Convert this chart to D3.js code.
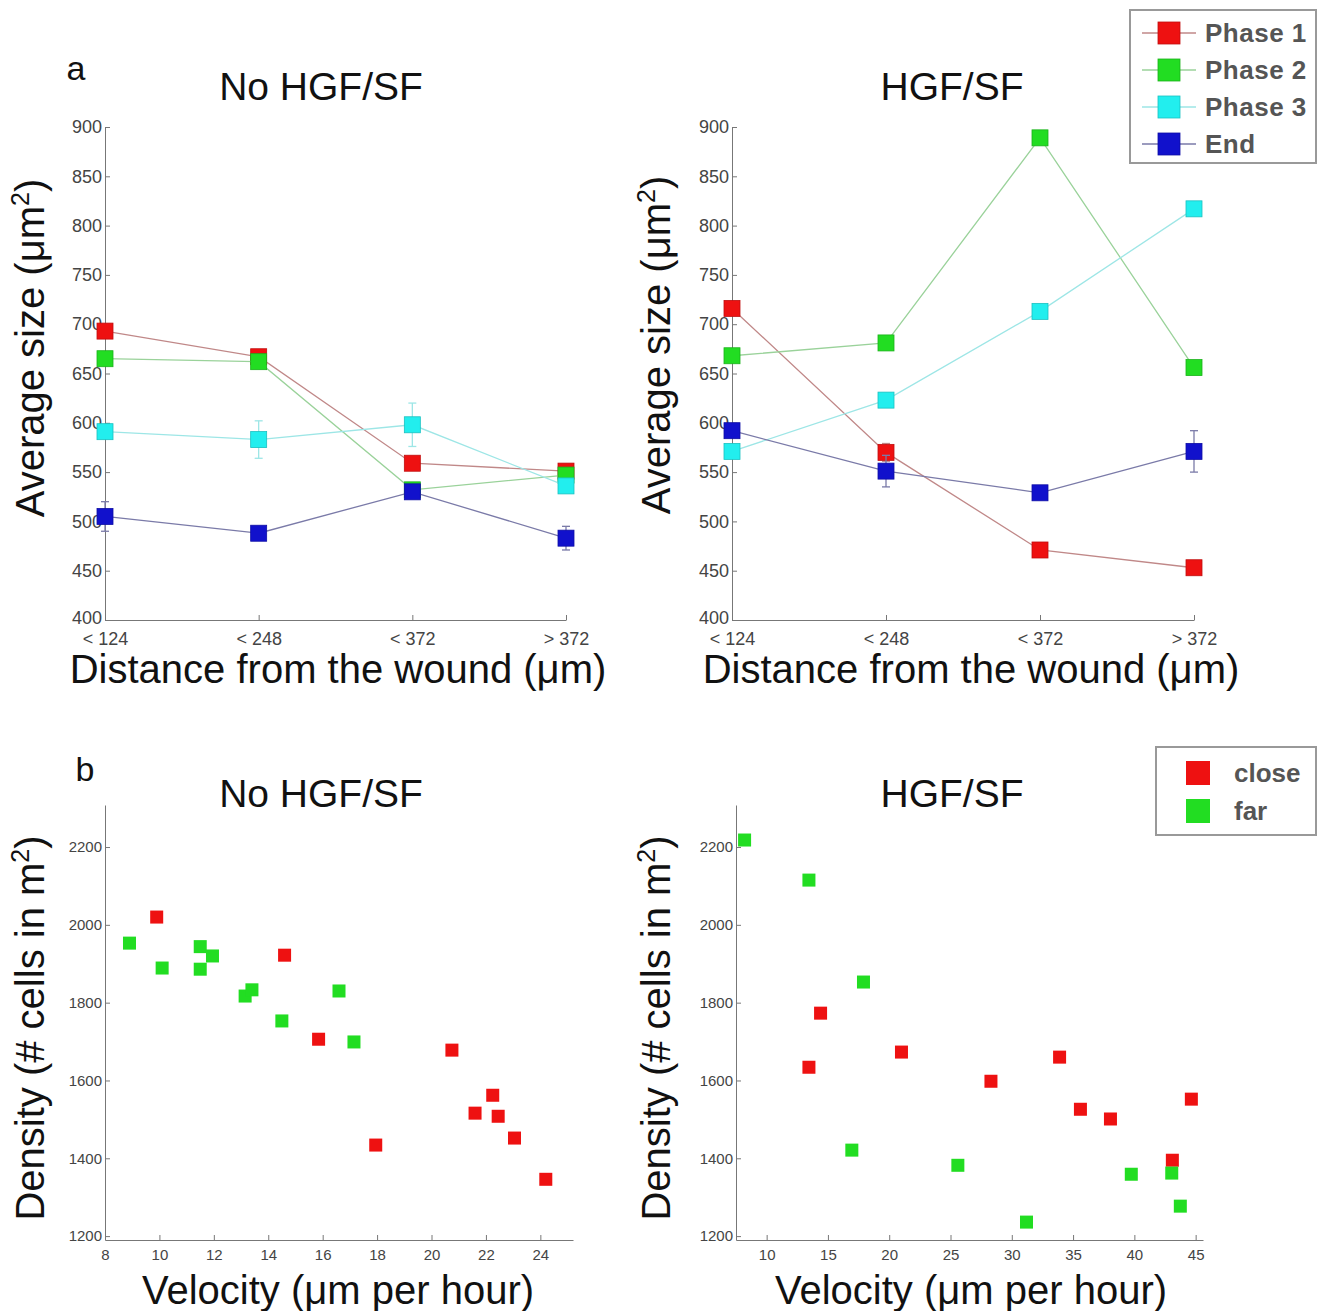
<!DOCTYPE html>
<html>
<head>
<meta charset="utf-8">
<script src="https://cdn.jsdelivr.net/npm/d3@7"></script>
<style>
  body { margin: 0; background: #fff; }
  svg { font-family: "Liberation Sans", Arial, sans-serif; }
  .axis path, .axis line { stroke: #777; }
  .axis text { fill: #444; }
</style>
</head>
<body>
<div id="chart"></div>
<script>
// Panel a: average size per distance bin
const distanceBins = ["< 124", "< 248", "< 372", "> 372"];
const phaseNames = ["Phase 1", "Phase 2", "Phase 3", "End"];
const phaseColors = ["#ee1111", "#22dd22", "#22eeee", "#1111cc"];
const phaseLineColors = ["#c08888", "#9ad29a", "#9de6e6", "#7a7aa8"];

const sizeTicks = [400, 450, 500, 550, 600, 650, 700, 750, 800, 850, 900];

// No HGF/SF
const noHgfPhase1 = [693, 667, 559, 551];
const noHgfPhase2 = [665, 662, 532, 547];
const noHgfPhase3 = [591, 583, 598, 536];
const noHgfEnd    = [505, 488, 530, 483];
const noHgfErr1 = [0, 0, 0, 0];
const noHgfErr2 = [0, 0, 0, 0];
const noHgfErr3 = [0, 19, 22, 0];
const noHgfErrEnd = [15, 0, 0, 12];

// HGF/SF
const hgfPhase1 = [716, 570, 471, 453];
const hgfPhase2 = [668, 681, 889, 656];
const hgfPhase3 = [571, 623, 713, 817];
const hgfEnd    = [592, 551, 529, 571];
const hgfErr1 = [0, 9, 0, 0];
const hgfErr2 = [0, 0, 0, 0];
const hgfErr3 = [0, 0, 0, 0];
const hgfErrEnd = [0, 16, 0, 21];

// Panel b: density vs velocity
const noHgfCloseVel = [9.9, 14.6, 15.85, 17.95, 20.75, 21.6, 22.25, 22.45, 23.05, 24.2];
const noHgfCloseDen = [2020, 1922, 1706, 1434, 1678, 1516, 1562, 1508, 1452, 1346];
const noHgfFarVel = [8.9, 10.1, 11.5, 11.5, 11.95, 13.15, 13.4, 14.5, 16.6, 17.15];
const noHgfFarDen = [1953, 1889, 1944, 1886, 1920, 1817, 1833, 1753, 1830, 1699];

const hgfCloseVel = [13.45, 14.4, 21.0, 28.3, 33.9, 35.6, 38.05, 43.1, 44.65];
const hgfCloseDen = [1634, 1773, 1673, 1598, 1660, 1526, 1501, 1395, 1552];
const hgfFarVel = [8.2, 13.45, 17.9, 16.95, 25.6, 31.2, 39.75, 43.05, 43.75];
const hgfFarDen = [2218, 2115, 1853, 1421, 1382, 1236, 1359, 1362, 1277];

const densityTicks = [1200, 1400, 1600, 1800, 2000, 2200];
const velTicksNoHgf = [8, 10, 12, 14, 16, 18, 20, 22, 24];
const velTicksHgf = [10, 15, 20, 25, 30, 35, 40, 45];
const groupNames = ["close", "far"];
const groupColors = ["#ee1111", "#22dd22"];

const svg = d3.select("#chart").append("svg")
    .attr("width", 1320)
    .attr("height", 1311);

// ---- line panels ----
function linePanel(left, right, series, errors) {
    const x = d3.scalePoint().domain(distanceBins).range([left, right]);
    const y = d3.scaleLinear().domain([400, 900]).range([620, 127]);

    const yAxis = svg.append("g")
        .attr("class", "axis")
        .attr("transform", `translate(${left},0)`)
        .call(d3.axisLeft(y).tickValues(sizeTicks).tickSize(-5).tickPadding(3).tickSizeOuter(0));
    yAxis.selectAll("text").style("font-size", "18px");
    // the bottom label sits just above the category labels
    yAxis.selectAll(".tick").filter(d => d === 400).select("text").attr("dy", "0.2em");

    const xAxis = svg.append("g")
        .attr("class", "axis")
        .attr("transform", "translate(0,620)")
        .call(d3.axisBottom(x).tickSize(-5).tickPadding(12).tickSizeOuter(0));
    xAxis.selectAll("text").style("font-size", "18px");

    const line = d3.line().x((d, i) => x(distanceBins[i])).y(d => y(d));

    series.forEach((vals, s) => {
        svg.append("path")
            .attr("d", line(vals))
            .attr("fill", "none")
            .attr("stroke", phaseLineColors[s])
            .attr("stroke-width", 1.3);

        errors[s].forEach((e, i) => {
            if (!e) return;
            const cx = x(distanceBins[i]);
            const g = svg.append("g").attr("stroke", phaseLineColors[s]).attr("stroke-width", 1.3);
            g.append("line").attr("x1", cx).attr("x2", cx).attr("y1", y(vals[i] - e)).attr("y2", y(vals[i] + e));
            [vals[i] - e, vals[i] + e].forEach(v => {
                g.append("line").attr("x1", cx - 4).attr("x2", cx + 4).attr("y1", y(v)).attr("y2", y(v));
            });
        });

        svg.selectAll(null)
            .data(vals)
            .enter().append("rect")
            .attr("x", (d, i) => x(distanceBins[i]) - 8)
            .attr("y", d => y(d) - 8)
            .attr("width", 16)
            .attr("height", 16)
            .attr("fill", phaseColors[s])
            .attr("stroke", d3.color(phaseColors[s]).darker(0.6))
            .attr("stroke-width", 0.8);
    });
}

linePanel(105, 566, [noHgfPhase1, noHgfPhase2, noHgfPhase3, noHgfEnd],
    [noHgfErr1, noHgfErr2, noHgfErr3, noHgfErrEnd]);
linePanel(732, 1194, [hgfPhase1, hgfPhase2, hgfPhase3, hgfEnd],
    [hgfErr1, hgfErr2, hgfErr3, hgfErrEnd]);

// ---- scatter panels ----
function scatterPanel(left, right, xDomain, xTicks, groups) {
    const x = d3.scaleLinear().domain(xDomain).range([left, right]);
    const y = d3.scaleLinear().domain([1190, 2308]).range([1240, 805]);

    const yAxis = svg.append("g")
        .attr("class", "axis")
        .attr("transform", `translate(${left},0)`)
        .call(d3.axisLeft(y).tickValues(densityTicks).tickFormat(d3.format("d"))
            .tickSize(-5).tickPadding(3).tickSizeOuter(0));
    yAxis.selectAll("text").style("font-size", "15px");

    const xAxis = svg.append("g")
        .attr("class", "axis")
        .attr("transform", "translate(0,1240)")
        .call(d3.axisBottom(x).tickValues(xTicks).tickFormat(d3.format("d"))
            .tickSize(-5).tickPadding(9).tickSizeOuter(0));
    xAxis.selectAll("text").style("font-size", "15px");

    groups.forEach((g, k) => {
        svg.selectAll(null)
            .data(g.vel)
            .enter().append("rect")
            .attr("x", d => x(d) - 6.5)
            .attr("y", (d, i) => y(g.den[i]) - 6.5)
            .attr("width", 13)
            .attr("height", 13)
            .attr("fill", groupColors[k]);
    });
}

scatterPanel(105, 573, [8, 25.2], velTicksNoHgf,
    [{ vel: noHgfCloseVel, den: noHgfCloseDen }, { vel: noHgfFarVel, den: noHgfFarDen }]);
scatterPanel(736, 1203, [7.5, 45.6], velTicksHgf,
    [{ vel: hgfCloseVel, den: hgfCloseDen }, { vel: hgfFarVel, den: hgfFarDen }]);

// ---- titles and labels ----
function text(x, y, str, size, opts = {}) {
    const t = svg.append("text")
        .attr("x", x).attr("y", y)
        .attr("text-anchor", opts.anchor || "middle")
        .style("font-size", size + "px")
        .attr("fill", opts.fill || "#111");
    if (opts.rotate) t.attr("transform", `rotate(-90,${x},${y})`);
    t.html(str);
    return t;
}

text(76, 80, "a", 34);
text(85, 781, "b", 34);
text(321, 100, "No HGF/SF", 39);
text(952, 100, "HGF/SF", 39);
text(321, 807, "No HGF/SF", 39);
text(952, 807, "HGF/SF", 39);

const sizeLabel = 'Average size (μm<tspan dy="-15" font-size="25">2</tspan><tspan dy="15">)</tspan>';
text(44, 348, sizeLabel, 40, { rotate: true });
text(670, 345, sizeLabel, 40, { rotate: true });

text(338, 683, "Distance from the wound (μm)", 40);
text(971, 683, "Distance from the wound (μm)", 40);

const densLabel = 'Density (# cells in m<tspan dy="-15" font-size="25">2</tspan><tspan dy="15">)</tspan>';
text(44, 1028, densLabel, 40, { rotate: true });
text(670, 1028, densLabel, 40, { rotate: true });

text(338, 1304, "Velocity (μm per hour)", 40);
text(971, 1304, "Velocity (μm per hour)", 40);

// ---- legends ----
const legTop = svg.append("g").attr("transform", "translate(1130,10)");
legTop.append("rect")
    .attr("width", 186).attr("height", 153)
    .attr("fill", "#fff").attr("stroke", "#999").attr("stroke-width", 2);
phaseNames.forEach((name, i) => {
    const yy = 23 + i * 37;
    legTop.append("line")
        .attr("x1", 12).attr("x2", 66).attr("y1", yy).attr("y2", yy)
        .attr("stroke", phaseLineColors[i]).attr("stroke-width", 1.3);
    legTop.append("rect")
        .attr("x", 28).attr("y", yy - 11).attr("width", 22).attr("height", 22)
        .attr("fill", phaseColors[i]).attr("stroke", d3.color(phaseColors[i]).darker(0.6)).attr("stroke-width", 0.8);
    legTop.append("text")
        .attr("x", 75).attr("y", yy + 9)
        .style("font-size", "26px").style("font-weight", "bold")
        .style("letter-spacing", "0.5px")
        .attr("fill", "#555").text(name);
});

const legBot = svg.append("g").attr("transform", "translate(1156,747)");
legBot.append("rect")
    .attr("width", 160).attr("height", 88)
    .attr("fill", "#fff").attr("stroke", "#999").attr("stroke-width", 2);
groupNames.forEach((name, i) => {
    const yy = 26 + i * 38;
    legBot.append("rect")
        .attr("x", 30).attr("y", yy - 12).attr("width", 24).attr("height", 24)
        .attr("fill", groupColors[i]);
    legBot.append("text")
        .attr("x", 78).attr("y", yy + 9)
        .style("font-size", "26px").style("font-weight", "bold")
        .attr("fill", "#555").text(name);
});
</script>
</body>
</html>
